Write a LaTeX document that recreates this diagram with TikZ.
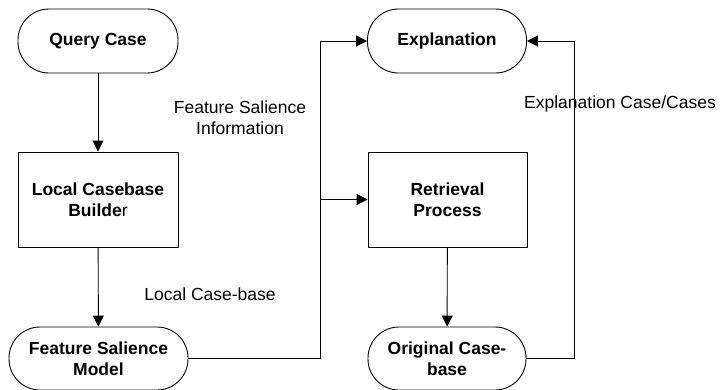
\documentclass[tikz,border=0pt]{standalone}
\usepackage{fontspec}
\setmainfont{Liberation Sans}
\usetikzlibrary{arrows.meta}
\begin{document}
\begin{tikzpicture}[x=1pt,y=-1pt,
  base/.style={draw=black,line width=0.9pt,font=\fontsize{17.5}{21}\selectfont\bfseries,align=center,inner sep=0pt},
  term/.style={base,rounded corners=31pt},
  proc/.style={base},
  arr/.style={draw=black,line width=0.9pt,-{Triangle[length=11pt,width=11pt]}},
  ln/.style={draw=black,line width=0.9pt},
  lab/.style={font=\fontsize{17.5}{21}\selectfont,align=center,inner sep=0pt}]
\useasboundingbox (0,0) rectangle (721,389);
\node[term,minimum width=160pt,minimum height=64pt] (q) at (98,41) {Query Case};
\node[proc,minimum width=160pt,minimum height=95pt] (lb) at (98,199.5) {Local Casebase\\\textbf{Builde}\mdseries r};
\node[term,minimum width=179pt,minimum height=63pt] (fs) at (98.5,358.5) {Feature Salience\\Model};
\node[term,minimum width=159pt,minimum height=64pt] (ex) at (447,41) {Explanation};
\node[proc,minimum width=159pt,minimum height=95pt] (rp) at (447.5,199.5) {Retrieval\\Process};
\node[term,minimum width=158pt,minimum height=63pt] (oc) at (447,358.5) {Original Case-\\base};
\coordinate (j1) at (320,358.5);
\coordinate (jm) at (320,199.5);
\coordinate (c1) at (574,358.5);
\draw[arr] (q) -- (lb);
\draw[arr] (lb) -- (fs);
\draw[arr] (fs.east) -- (j1) |- (ex.west);
\draw[arr] (jm) -- (rp.west);
\draw[arr] (rp) -- (oc);
\draw[arr] (oc.east) -- (c1) |- (ex.east);
\node[lab] (l1) at (240,118) {Feature Salience\\Information};
\node[lab] (l2) at (210,294) {Local Case-base};
\node[lab,anchor=west] (l3) at (524,104) {Explanation Case/Cases};
\end{tikzpicture}
\end{document}
